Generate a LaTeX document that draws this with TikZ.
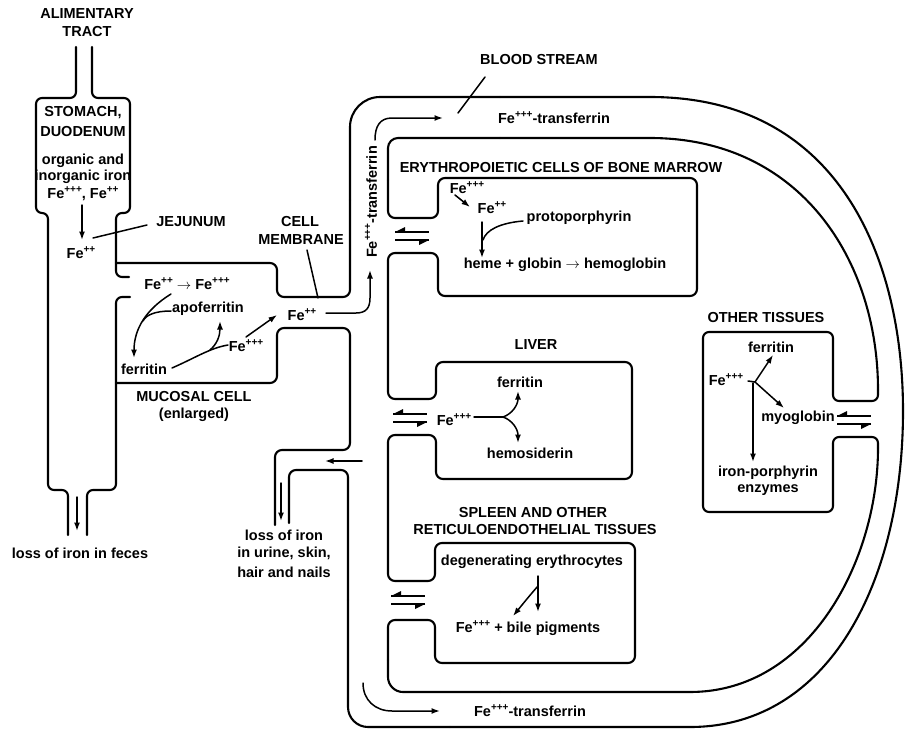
\documentclass[tikz,border=0pt]{standalone}
\usepackage{fontspec}
\setmainfont{Liberation Sans}
\usetikzlibrary{arrows.meta}
\newcommand\pp[1]{\raisebox{0.42em}{\fontsize{10}{10}\selectfont #1}}
\newcommand\Fett{Fe\pp{+++}}
\newcommand\Fet{Fe\pp{++}}
\begin{document}
\begin{tikzpicture}[x=1pt,y=-1pt,
  wall/.style={line width=2.1pt, line cap=round, line join=round},
  flow/.style={line width=1.5pt, line cap=round, -{Latex[length=8.5pt,width=6pt]}},
  plain/.style={line width=1.5pt, line cap=round},
  t/.style={font=\bfseries\fontsize{14.5}{15}\selectfont, inner sep=0pt},
  eqm/.pic={
    \draw[line width=1.5pt] (-17,-4) -- (17,-4);
    \fill (-17,-4) -- (-7,-9) -- (-7,-4) -- cycle;
    \draw[line width=1.5pt] (-17,4) -- (17,4);
    \fill (17,4) -- (7,9) -- (7,4) -- cycle;
  }]
\useasboundingbox (0,0) rectangle (905,731);

% ---------- alimentary tract, stomach, jejunum ----------
\draw[wall,rounded corners=6pt] (76,47) -- (76,98) -- (36,98) -- (36,213) -- (48,213) -- (48,490) -- (68,490) -- (68,535);
\draw[wall,rounded corners=6pt] (92,47) -- (92,98) -- (130,98) -- (130,213) -- (116,213) -- (116,277) -- (129,277);
\draw[wall,rounded corners=6pt] (130,297) -- (116,297) -- (116,490) -- (87,490) -- (87,535);

% ---------- mucosal cell / cell membrane channel ----------
\draw[wall,rounded corners=7pt] (116,263) -- (277,263) -- (277,297) -- (350,297) -- (350,200);
\draw[wall,rounded corners=30pt] (350,200) -- (350,97) -- (500,97);
\draw[wall] (500,97) -- (650,97) .. controls (840,97) and (903,260) .. (903,411)
   .. controls (903,580) and (830,727) .. (690,727) -- (450,727);
\draw[wall,rounded corners=20pt] (450,727) -- (348,727) -- (348,600);
\draw[wall,rounded corners=7pt] (348,600) -- (348,470) -- (289,470) -- (289,523);
\draw[wall,rounded corners=7pt] (116,383) -- (277,383) -- (277,328) -- (350,328) -- (350,450) -- (275,450) -- (275,525);

% ---------- inner blood stream wall with organ boxes ----------
\draw[wall,rounded corners=10pt] (500,138) -- (388,138) -- (388,180);
\draw[wall,rounded corners=7pt] (388,180) -- (388,218) -- (438,218) -- (438,178) -- (697,178) -- (697,296) -- (438,296) -- (438,253) -- (388,253)
   -- (388,399) -- (436,399) -- (436,362) -- (632,362) -- (632,479) -- (436,479) -- (436,435) -- (388,435)
   -- (388,581) -- (435,581) -- (435,543) -- (635,543) -- (635,663) -- (435,663) -- (435,620) -- (388,620) -- (388,660);
\draw[wall,rounded corners=15pt] (388,660) -- (388,692) -- (500,692);
\draw[wall] (500,692) -- (690,692) .. controls (810,692) and (878,560) .. (878,448);
\draw[wall,rounded corners=6pt] (878,448) -- (878,437) -- (833,437) -- (833,512) -- (703,512) -- (703,332) -- (833,332) -- (833,401) -- (878,401) -- (878,390);
\draw[wall] (878,390) .. controls (878,260) and (800,138) .. (650,138) -- (500,138);

% ---------- equilibrium signs ----------
\pic at (412,236) {eqm};
\pic at (410,418) {eqm};
\pic at (408,600) {eqm};
\pic at (854,420) {eqm};

% ---------- labels ----------
\node[t] (alim) at (87,14) {ALIMENTARY};
\node[t] (tract) at (87,32) {TRACT};
\node[t] (stom) at (83,113) {STOMACH,};
\node[t] (duod) at (83,132) {DUODENUM};
\node[t] (org1) at (83,161) {organic and};
\node[t] (org2) at (83,177) {inorganic iron};
\node[t] (org3) at (83,194) {\Fett, \Fet};
\node[t] (feJ) at (81,253) {\Fet};
\node[t] (jej) at (191,222) {JEJUNUM};
\node[t] (cell) at (300,222) {CELL};
\node[t] (memb) at (301,240) {MEMBRANE};
\node[t] (conv) at (187,284) {\Fet\ $\rightarrow$ \Fett};
\node[t] (apo) at (208,309) {apoferritin};
\node[t] (ferM) at (144,369) {ferritin};
\node[t] (fe3M) at (246,346) {\Fett};
\node[t] (fe2M) at (302,315) {\Fet};
\node[t] (muc) at (194,397) {MUCOSAL CELL};
\node[t] (enl) at (194,415) {(enlarged)};
\node[t] (feces) at (80,553) {loss of iron in feces};
\node[t] (loss1) at (284,535) {loss of iron};
\node[t] (loss2) at (284,553) {in urine, skin,};
\node[t] (loss3) at (284,572) {hair and nails};
\node[t] (blood) at (539,60) {BLOOD STREAM};
\node[t] (tfTop) at (554,118) {\Fett-transferrin};
\node[t, rotate=90] (tfVert) at (371,202) {\Fett-transferrin};
\node[t] (ery) at (561,168) {ERYTHROPOIETIC CELLS OF BONE MARROW};
\node[t] (fe3B) at (467,188) {\Fett};
\node[t] (fe2B) at (492,208) {\Fet};
\node[t] (proto) at (579,218) {protoporphyrin};
\node[t] (heme) at (565,265) {heme + globin $\rightarrow$ hemoglobin};
\node[t] (liver) at (536,345) {LIVER};
\node[t] (ferL) at (520,382) {ferritin};
\node[t] (fe3L) at (454,420) {\Fett};
\node[t] (hemo) at (530,453) {hemosiderin};
\node[t] (spl1) at (533,513) {SPLEEN AND OTHER};
\node[t] (spl2) at (535,530) {RETICULOENDOTHELIAL TISSUES};
\node[t] (degen) at (532,562) {degenerating erythrocytes};
\node[t] (bile) at (528,628) {\Fett\ + bile pigments};
\node[t] (tfBot) at (530,711) {\Fett-transferrin};
\node[t] (other) at (766,318) {OTHER TISSUES};
\node[t] (ferO) at (771,347) {ferritin};
\node[t] (fe3O) at (726,380) {\Fett};
\node[t] (myo) at (798,418) {myoglobin};
\node[t] (ironp) at (768,473) {iron-porphyrin};
\node[t] (enz) at (768,490) {enzymes};

% ---------- pointer lines ----------
\draw[plain] (93,238) -- (147,225);
\draw[plain] (307,250) -- (318,298);
\draw[plain] (485,77) -- (458,113);

% ---------- flows ----------
\draw[flow] (82,205) -- (82,240);
\draw[flow] (77,497) -- (77,531);
\draw[flow] (281,483) -- (281,521);
\draw[flow] (362,461) -- (325,461);
% mucosal cell
\draw[flow] (171,294) .. controls (145,310) and (134,330) .. (134,358);
\draw[plain] (171,311) .. controls (155,311) and (146,315) .. (143,321);
\draw[plain] (172,368) .. controls (195,358) and (210,348) .. (228,345);
\draw[flow] (210,350) .. controls (217,344) and (220,336) .. (220,321);
\draw[flow] (246,337) -- (277,315);
\draw[flow] (326,313) -- (356,313) .. controls (366,313) and (370,308) .. (370,298) -- (370,270);
\draw[flow] (375,140) .. controls (375,126) and (380,118) .. (392,118) -- (443,118);
% bone marrow
\draw[flow] (455,195) -- (470,207);
\draw[flow] (482,222) -- (482,258);
\draw[plain] (523,221) .. controls (500,223) and (486,230) .. (483,240);
% liver
\draw[plain] (474,417) -- (503,417);
\draw[flow] (503,417) .. controls (512,414) and (518,405) .. (518,391);
\draw[flow] (503,417) .. controls (512,420) and (518,429) .. (518,443);
% spleen
\draw[flow] (538,576) -- (538,612);
\draw[flow] (538,586) .. controls (530,595) and (522,605) .. (513,616);
% other tissues
\draw[plain] (748,381) -- (755,382);
\draw[flow] (755,382) -- (773,355);
\draw[flow] (755,382) -- (784,408);
\draw[flow] (753,383) -- (753,462);
% bottom transferrin
\draw[flow] (363,683) .. controls (363,700) and (375,711) .. (392,711) -- (440,711);
\end{tikzpicture}
\end{document}
